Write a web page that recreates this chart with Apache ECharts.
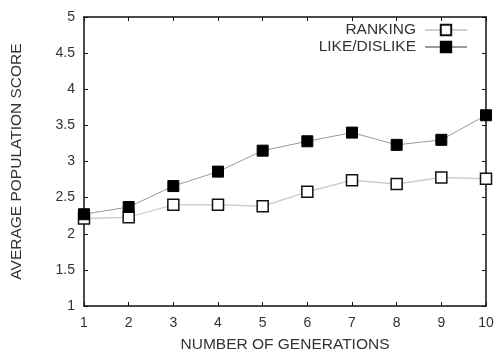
<!DOCTYPE html>
<html>
<head>
<meta charset="utf-8">
<script src="https://cdn.jsdelivr.net/npm/echarts@6/dist/echarts.min.js"></script>
<style>
  html, body { margin: 0; padding: 0; background: #fff; }
  #chart { width: 495px; height: 352px; }
</style>
</head>
<body>
<div id="chart"></div>
<script>
var generations = [1, 2, 3, 4, 5, 6, 7, 8, 9, 10];
var ranking = [2.21, 2.23, 2.40, 2.40, 2.38, 2.58, 2.74, 2.69, 2.78, 2.76];
var likeDislike = [2.27, 2.37, 2.66, 2.86, 3.15, 3.28, 3.40, 3.23, 3.30, 3.64];

function pairs(values) {
  return generations.map(function (g, i) { return [g, values[i]]; });
}

var chart = echarts.init(document.getElementById("chart"));
var font = "Liberation Sans, Arial, sans-serif";
var option = {
  animation: false,
  textStyle: { fontFamily: font },
  grid: { left: 84, right: 9, top: 17, bottom: 46, outerBoundsMode: "none" },
  legend: {
    orient: "vertical",
    right: 22,
    top: 17,
    align: "right",
    itemWidth: 42,
    itemHeight: 13,
    itemGap: 1,
    textStyle: { fontFamily: font, fontSize: 15.5, color: "#333", padding: [0, 4, 0, 0] },
    data: ["RANKING", "LIKE/DISLIKE"]
  },
  xAxis: [
    {
      type: "value",
      min: 1,
      max: 10,
      interval: 1,
      name: "NUMBER OF GENERATIONS",
      nameLocation: "middle",
      nameGap: 31,
      nameTextStyle: { fontSize: 15.5, color: "#333", fontFamily: font },
      splitLine: { show: false },
      axisLine: { lineStyle: { color: "#111", width: 1.5 } },
      axisTick: { inside: true, length: 4, lineStyle: { color: "#111" } },
      axisLabel: { fontSize: 14, color: "#333", margin: 10, fontFamily: font }
    },
    {
      type: "value",
      position: "top",
      min: 1,
      max: 10,
      interval: 1,
      splitLine: { show: false },
      axisLine: { lineStyle: { color: "#111", width: 1.5 } },
      axisTick: { inside: true, length: 4, lineStyle: { color: "#111" } },
      axisLabel: { show: false }
    }
  ],
  yAxis: [
    {
      type: "value",
      min: 1,
      max: 5,
      interval: 0.5,
      name: "AVERAGE POPULATION SCORE",
      nameLocation: "middle",
      nameGap: 59,
      nameTextStyle: { fontSize: 15.5, color: "#333", fontFamily: font },
      splitLine: { show: false },
      axisLine: { show: true, lineStyle: { color: "#111", width: 1.5 } },
      axisTick: { show: true, inside: true, length: 4, lineStyle: { color: "#111" } },
      axisLabel: { fontSize: 14, color: "#333", margin: 9, fontFamily: font }
    },
    {
      type: "value",
      position: "right",
      min: 1,
      max: 5,
      interval: 0.5,
      splitLine: { show: false },
      axisLine: { show: true, lineStyle: { color: "#111", width: 1.5 } },
      axisTick: { show: true, inside: true, length: 4, lineStyle: { color: "#111" } },
      axisLabel: { show: false }
    }
  ],
  series: [
    {
      name: "RANKING",
      type: "line",
      data: pairs(ranking),
      symbol: "rect",
      symbolSize: 11,
      itemStyle: { color: "#fff", borderColor: "#111", borderWidth: 1.5 },
      lineStyle: { color: "#cfcfcf", width: 1.5 },
      z: 3
    },
    {
      name: "LIKE/DISLIKE",
      type: "line",
      data: pairs(likeDislike),
      symbol: "rect",
      symbolSize: 11,
      itemStyle: { color: "#000", borderColor: "#000", borderWidth: 1 },
      lineStyle: { color: "#9a9a9a", width: 1 },
      z: 4
    }
  ]
};
chart.setOption(option);
</script>
</body>
</html>
